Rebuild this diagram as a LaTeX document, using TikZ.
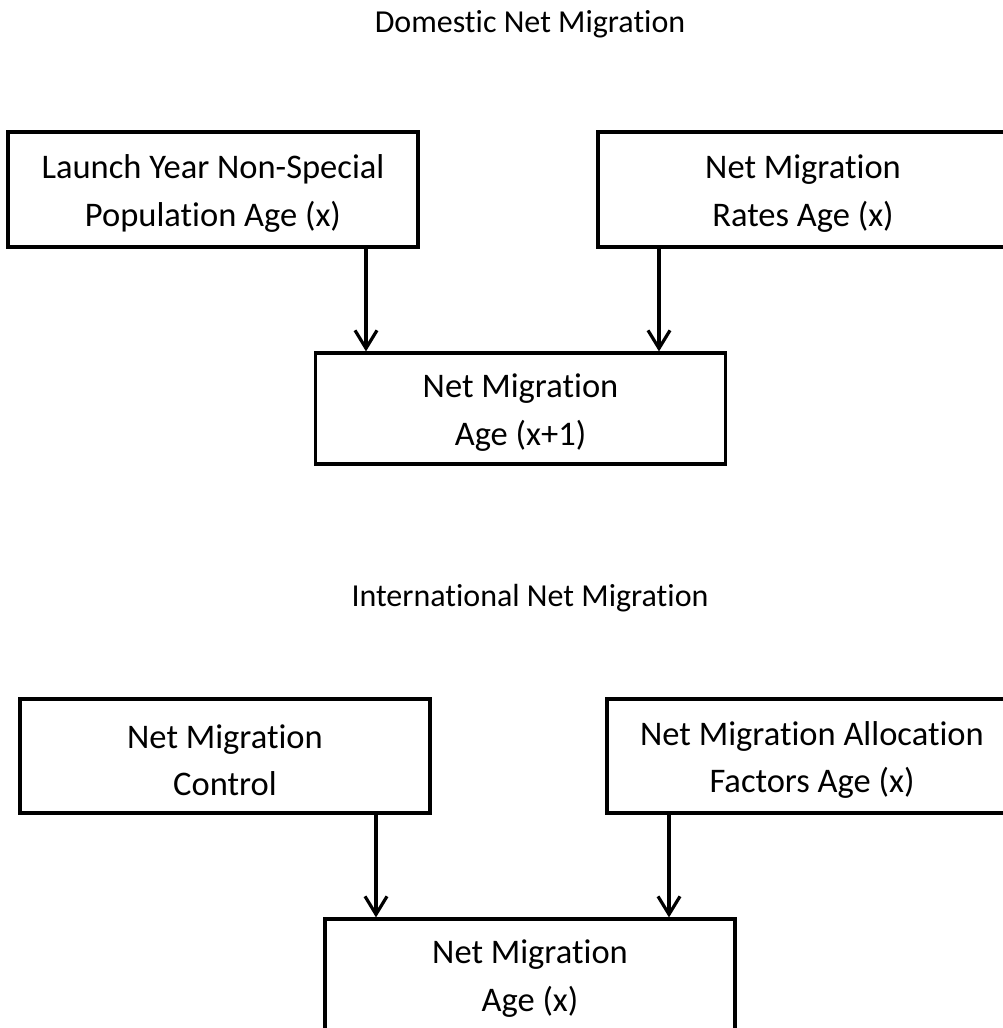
\documentclass[tikz,border=0pt]{standalone}
\usepackage{fontspec}
\setmainfont{Carlito}[Ligatures={NoCommon,NoContextual}]
\usetikzlibrary{arrows.meta}
\newcommand{\topstrut}{\rule{0pt}{32pt}}
\begin{document}
\begin{tikzpicture}[x=1pt,y=-1pt,
  box/.style={draw=black,line width=3.2pt,rectangle,minimum width=410pt,minimum height=114pt,inner sep=0pt,align=center,font=\fontsize{34.5}{47.5}\selectfont},
  title/.style={font=\fontsize{32}{47}\selectfont,inner sep=0pt},
  arr/.style={line width=3.2pt,-{Straight Barb[length=18pt,width=22pt,line width=3.2pt]}}]
\useasboundingbox (0,0) rectangle (1003,1028);
\clip (0,0) rectangle (1003,1028);
% Domestic
\node[title,anchor=base] (t1) at (530,32) {Domestic Net Migration};
\node[box,minimum height=115pt] (b1) at (213,189.5) {\topstrut Launch Year Non-Special\\Population Age (x)};
\node[box,minimum height=115pt] (b2) at (803,189.5) {\topstrut Net Migration\\Rates Age (x)};
\node[box,minimum height=111pt] (b3) at (520.5,408.5) {\topstrut Net Migration\\Age (x+1)};
\coordinate (a1) at (366,0);
\coordinate (a2) at (659,0);
\draw[arr] (a1 |- b1.south) -- (a1 |- b3.north);
\draw[arr] (a2 |- b2.south) -- (a2 |- b3.north);
% International
\node[title,anchor=base] (t2) at (530,606) {International Net Migration};
\node[box] (b4) at (225,756) {\topstrut Net Migration\\Control};
\node[box] (b5) at (812,756) {\topstrut Net Migration Allocation\\Factors Age (x)};
\node[box,minimum height=111pt] (b6) at (530,974.5) {\topstrut Net Migration\\Age (x)};
\coordinate (a3) at (376,0);
\coordinate (a4) at (669,0);
\draw[arr] (a3 |- b4.south) -- (a3 |- b6.north);
\draw[arr] (a4 |- b5.south) -- (a4 |- b6.north);
\end{tikzpicture}
\end{document}
